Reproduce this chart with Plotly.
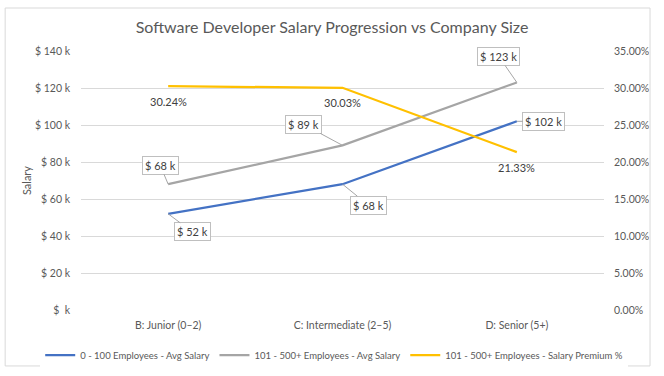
import plotly.graph_objects as go

categories = ["B: Junior (0–2)", "C: Intermediate (2–5)", "D: Senior (5+)"]
small_salary = [52, 68, 102]          # $ k
large_salary = [68, 89, 123]          # $ k
premium_pct = [0.3024, 0.3003, 0.2133]

y_tickvals = [0, 20, 40, 60, 80, 100, 120, 140]
y_ticktext = ["$  k", "$ 20 k", "$ 40 k", "$ 60 k", "$ 80 k", "$ 100 k", "$ 120 k", "$ 140 k"]
y2_tickvals = [0, 0.05, 0.10, 0.15, 0.20, 0.25, 0.30, 0.35]

small_offsets = [(24, 18), (26, 21), (27, 0)]
large_offsets = [(-8, -19), (-39, -21), (-18, -26)]

FONT = "Lato"
TXT = "#595959"
GRID = "#D9D9D9"

fig = go.Figure()
fig.add_trace(go.Scatter(x=categories, y=small_salary, mode="lines",
                         line=dict(color="#4472C4", width=2.25),
                         name="0 - 100 Employees - Avg Salary"))
fig.add_trace(go.Scatter(x=categories, y=large_salary, mode="lines",
                         line=dict(color="#A5A5A5", width=2.25),
                         name="101 - 500+ Employees - Avg Salary"))
fig.add_trace(go.Scatter(x=categories, y=premium_pct, mode="lines", yaxis="y2",
                         line=dict(color="#FFC000", width=2.25),
                         name="101 - 500+ Employees - Salary Premium %"))

annotations = []
for cat, v, (ax, ay) in zip(categories, small_salary, small_offsets):
    annotations.append(dict(x=cat, y=v, xref="x", yref="y", text=f"$ {v} k",
                            showarrow=True, ax=ax, ay=ay, arrowhead=0, arrowwidth=1,
                            arrowcolor="#A6A6A6", bordercolor="#BFBFBF", borderwidth=1,
                            borderpad=2, bgcolor="white",
                            font=dict(family=FONT, size=11, color="#404040")))
for cat, v, (ax, ay) in zip(categories, large_salary, large_offsets):
    annotations.append(dict(x=cat, y=v, xref="x", yref="y", text=f"$ {v} k",
                            showarrow=True, ax=ax, ay=ay, arrowhead=0, arrowwidth=1,
                            arrowcolor="#A6A6A6", bordercolor="#BFBFBF", borderwidth=1,
                            borderpad=2, bgcolor="white",
                            font=dict(family=FONT, size=11, color="#404040")))
for cat, v in zip(categories, premium_pct):
    annotations.append(dict(x=cat, y=v, xref="x", yref="y2", text=f"{v*100:.2f}%",
                            showarrow=False, yshift=-15,
                            font=dict(family=FONT, size=11, color="#404040")))

fig.update_layout(
    width=664, height=376,
    margin=dict(l=81, r=60, t=51, b=66, autoexpand=False),
    paper_bgcolor="white", plot_bgcolor="white",
    title=dict(text="Software Developer Salary Progression vs Company Size",
               x=0.5, xanchor="center", y=1 - 27 / 376, yanchor="middle",
               font=dict(family=FONT, size=16, color=TXT)),
    font=dict(family=FONT, size=11, color=TXT),
    xaxis=dict(type="category", range=[-0.5, 2.5], showgrid=False, showline=False,
               ticks="", ticklabelstandoff=7,
               tickfont=dict(family=FONT, size=10.5, color=TXT)),
    yaxis=dict(range=[0, 140], tickvals=y_tickvals, ticktext=y_ticktext,
               showgrid=True, gridcolor=GRID, gridwidth=1, zeroline=False,
               showline=False, ticks="", ticklabelstandoff=10,
               title=dict(text="Salary", font=dict(family=FONT, size=11, color=TXT), standoff=1),
               tickfont=dict(family=FONT, size=10.5, color=TXT)),
    yaxis2=dict(range=[0, 0.35], tickvals=y2_tickvals,
                tickformat=".2%", overlaying="y", side="right",
                showgrid=True, gridcolor=GRID, gridwidth=1,
                zeroline=False, showline=False, ticklabelstandoff=9,
                tickfont=dict(family=FONT, size=10.5, color=TXT)),
    legend=dict(orientation="h", x=-0.078, xanchor="left",
                y=-0.174, yanchor="middle",
                font=dict(family=FONT, size=9.5, color=TXT), itemwidth=30),
    annotations=annotations,
    shapes=[dict(type="rect", xref="paper", yref="paper", x0=-0.145, x1=1.088,
                 y0=-0.216, y1=1.166, line=dict(color=GRID, width=1),
                 fillcolor="rgba(0,0,0,0)", layer="above")],
)

fig.write_html("out.html")
